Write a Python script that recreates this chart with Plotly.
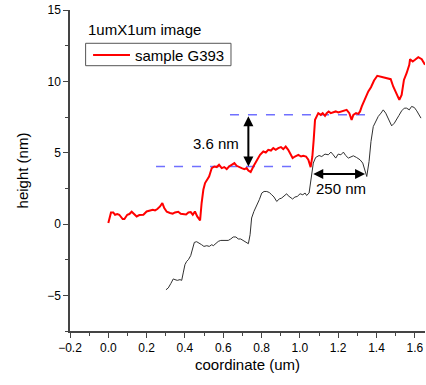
import plotly.graph_objects as go

# red profile (sample G393)
red_x = [0.000, 0.014, 0.026, 0.035, 0.047, 0.057, 0.075, 0.084, 0.099, 0.110, 0.122, 0.136, 0.148, 0.162,
         0.183, 0.200, 0.218, 0.232, 0.244, 0.256, 0.270, 0.282, 0.292, 0.305, 0.322, 0.336, 0.348, 0.365,
         0.378, 0.391, 0.406, 0.418, 0.430, 0.441, 0.452, 0.464, 0.479, 0.487, 0.496, 0.505, 0.526, 0.540,
         0.553, 0.566, 0.578, 0.592, 0.605, 0.618, 0.630, 0.644, 0.658, 0.670, 0.682, 0.696, 0.710, 0.722,
         0.731, 0.743, 0.757, 0.775, 0.792, 0.809, 0.822, 0.835, 0.849, 0.861, 0.874, 0.887, 0.901, 0.913,
         0.926, 0.939, 0.952, 0.962, 0.974, 0.992, 1.006, 1.018, 1.032, 1.044, 1.056, 1.065, 1.072, 1.079,
         1.096, 1.109, 1.119, 1.131, 1.140, 1.150, 1.161, 1.174, 1.187, 1.200, 1.213, 1.227, 1.244, 1.258,
         1.270, 1.279, 1.293, 1.305, 1.314, 1.323, 1.340, 1.357, 1.371, 1.387, 1.404, 1.422, 1.439, 1.456,
         1.474, 1.487, 1.505, 1.519, 1.531, 1.543, 1.557, 1.571, 1.575, 1.589, 1.601, 1.618, 1.636, 1.653]
red_y = [0.07, 0.81, 0.81, 0.65, 0.70, 0.65, 0.35, 0.35, 0.65, 0.70, 0.86, 0.70, 0.53, 0.63,
         0.65, 0.88, 0.93, 1.00, 0.95, 1.05, 1.23, 1.47, 1.12, 0.86, 0.77, 0.72, 0.81, 0.86,
         0.72, 0.72, 0.67, 0.81, 0.84, 0.65, 0.88, 0.53, 0.25, 1.47, 2.40, 2.87, 3.33, 3.92,
         4.03, 3.99, 4.15, 3.92, 3.99, 3.85, 4.03, 4.15, 4.27, 4.08, 4.03, 3.92, 3.85, 3.92,
         3.75, 3.64, 4.03, 4.50, 4.85, 5.08, 5.01, 5.20, 5.15, 5.32, 5.20, 5.32, 5.39, 5.25,
         5.43, 5.20, 4.85, 4.62, 4.73, 4.85, 4.73, 4.78, 4.73, 4.50, 3.99, 4.73, 5.90, 7.30,
         7.77, 7.65, 7.77, 7.58, 7.77, 7.89, 7.77, 7.82, 7.89, 7.82, 7.89, 7.96, 8.00, 7.77,
         7.30, 7.65, 7.77, 7.72, 7.89, 8.24, 8.82, 9.29, 9.59, 10.06, 10.39, 10.34, 10.29, 10.22,
         10.15, 9.64, 9.05, 8.70, 9.05, 10.10, 10.57, 11.16, 11.55, 11.39, 11.51, 11.69, 11.55, 11.16]

# black profile
blk_x = [0.301, 0.313, 0.326, 0.339, 0.348, 0.360, 0.374, 0.383, 0.391, 0.400, 0.409, 0.418, 0.430, 0.441,
         0.449, 0.461, 0.475, 0.487, 0.499, 0.514, 0.527, 0.540, 0.548, 0.562, 0.574, 0.587, 0.600, 0.614,
         0.626, 0.639, 0.652, 0.666, 0.678, 0.691, 0.705, 0.719, 0.731, 0.740, 0.748, 0.760, 0.775, 0.788,
         0.801, 0.813, 0.827, 0.840, 0.853, 0.865, 0.879, 0.892, 0.905, 0.917, 0.931, 0.939, 0.952, 0.962,
         0.974, 0.986, 1.001, 1.015, 1.027, 1.035, 1.048, 1.058, 1.070, 1.082, 1.100, 1.114, 1.131, 1.148,
         1.162, 1.174, 1.187, 1.200, 1.214, 1.227, 1.239, 1.253, 1.267, 1.279, 1.296, 1.314, 1.328, 1.340,
         1.349, 1.361, 1.371, 1.383, 1.396, 1.409, 1.423, 1.435, 1.448, 1.461, 1.479, 1.493, 1.505, 1.517,
         1.531, 1.545, 1.557, 1.571, 1.583, 1.597, 1.610, 1.622, 1.632]
blk_y = [-4.61, -4.48, -4.18, -3.85, -3.90, -3.95, -3.90, -3.95, -3.43, -2.85, -2.62, -2.50, -2.22, -1.57,
         -1.29, -1.24, -1.33, -1.45, -1.57, -1.52, -1.57, -1.45, -1.52, -1.33, -1.22, -1.15, -1.15, -1.10,
         -1.15, -1.05, -0.91, -0.91, -1.05, -1.05, -1.15, -1.29, -1.38, -0.75, 0.42, 0.88, 1.28, 1.70,
         2.17, 2.28, 2.28, 2.21, 2.05, 1.89, 1.58, 1.75, 1.82, 1.93, 2.12, 1.98, 1.82, 1.75,
         1.89, 1.93, 2.12, 2.05, 2.17, 2.00, 2.17, 3.22, 4.27, 4.66, 4.80, 4.73, 4.90, 4.85,
         5.04, 4.85, 4.62, 4.90, 4.85, 5.04, 4.80, 4.62, 4.73, 4.78, 4.66, 4.50, 4.27, 3.68,
         3.33, 4.38, 5.78, 6.83, 7.18, 7.54, 7.77, 8.00, 7.77, 7.42, 6.88, 7.07, 7.30, 7.61,
         7.93, 8.12, 8.12, 8.00, 8.24, 8.17, 7.93, 7.70, 7.42]

# guide levels
lower_level_x = [0.249, 0.966]
lower_level_y = [4.03, 4.03]
upper_level_x = [0.635, 1.365]
upper_level_y = [7.65, 7.65]

step_height = [0.731, 4.03, 7.65]     # x, bottom, top
terrace_width = [1.062, 1.340, 3.5]   # start, end, y

fig = go.Figure()
fig.add_trace(go.Scatter(x=lower_level_x, y=lower_level_y, mode="lines", showlegend=False,
                         line=dict(color="#7070ff", width=1.5, dash="dash")))
fig.add_trace(go.Scatter(x=upper_level_x, y=upper_level_y, mode="lines", showlegend=False,
                         line=dict(color="#7070ff", width=1.5, dash="dash")))
fig.add_trace(go.Scatter(x=blk_x, y=blk_y, mode="lines", showlegend=False,
                         line=dict(color="#303030", width=1)))
fig.add_trace(go.Scatter(x=red_x, y=red_y, mode="lines", name="sample G393", showlegend=False,
                         line=dict(color="#ff0000", width=2)))

fig.add_annotation(x=step_height[0], y=step_height[1], ax=step_height[0], ay=step_height[2],
                   xref="x", yref="y", axref="x", ayref="y", text="", showarrow=True,
                   arrowhead=2, startarrowhead=2, arrowside="end+start", arrowsize=1,
                   arrowwidth=2, arrowcolor="black")
fig.add_annotation(x=terrace_width[1], y=terrace_width[2], ax=terrace_width[0], ay=terrace_width[2],
                   xref="x", yref="y", axref="x", ayref="y", text="", showarrow=True,
                   arrowhead=2, startarrowhead=2, arrowside="end+start", arrowsize=1,
                   arrowwidth=2, arrowcolor="black")
fig.add_annotation(x=0.563, y=5.67, text="3.6 nm", showarrow=False, font=dict(size=15, color="black"))
fig.add_annotation(x=1.215, y=2.52, text="250 nm", showarrow=False, font=dict(size=15, color="black"))
fig.add_annotation(x=0.045, y=0.94, xref="paper", yref="paper", xanchor="left", yanchor="middle",
                   text="1umX1um image", showarrow=False, font=dict(size=15, color="black"))

# legend box drawn by hand (Origin style, tight box)
fig.add_shape(type="rect", xref="paper", yref="paper", x0=0.044, x1=0.4535, y0=0.8265, y1=0.8963,
              line=dict(color="#555", width=1), fillcolor="white", layer="above")
fig.add_shape(type="line", xref="paper", yref="paper", x0=0.065, x1=0.169, y0=0.8598, y1=0.8598,
              line=dict(color="#ff0000", width=2), layer="above")
fig.add_annotation(x=0.1775, y=0.8598, xref="paper", yref="paper", xanchor="left", yanchor="middle",
                   text="sample G393", showarrow=False, font=dict(size=15, color="black"))

axis_style = dict(showline=True, linecolor="#444", linewidth=1.5, ticks="outside", ticklen=5,
                  tickwidth=1.2, tickcolor="#444", showgrid=False, zeroline=False, mirror=False,
                  automargin=False, tickfont=dict(size=12, color="black"))

fig.update_xaxes(range=[-0.2, 1.653], dtick=0.2, tick0=0, tickformat=".1f",
                 minor=dict(dtick=0.1, ticklen=3, tickcolor="#444", ticks="outside"),
                 title=dict(text="coordinate (um)", font=dict(size=15, color="black"), standoff=5),
                 **axis_style)
fig.update_yaxes(range=[-7.5, 15], dtick=5, tick0=0,
                 minor=dict(dtick=2.5, ticklen=3, tickcolor="#444", ticks="outside"),
                 title=dict(text="height (nm)", font=dict(size=15, color="black"), standoff=15),
                 **axis_style)

fig.update_layout(
    width=426, height=385,
    margin=dict(l=70, r=1, t=10, b=54),
    plot_bgcolor="white", paper_bgcolor="white",
    font=dict(family="Liberation Sans, Arial, sans-serif", color="black"),
    showlegend=False,
)

# drop the browser's default 8px page margin so the figure sits at the window corner
fig.write_html("out.html", config={"displayModeBar": False},
               post_script="document.body.style.margin='0';")
